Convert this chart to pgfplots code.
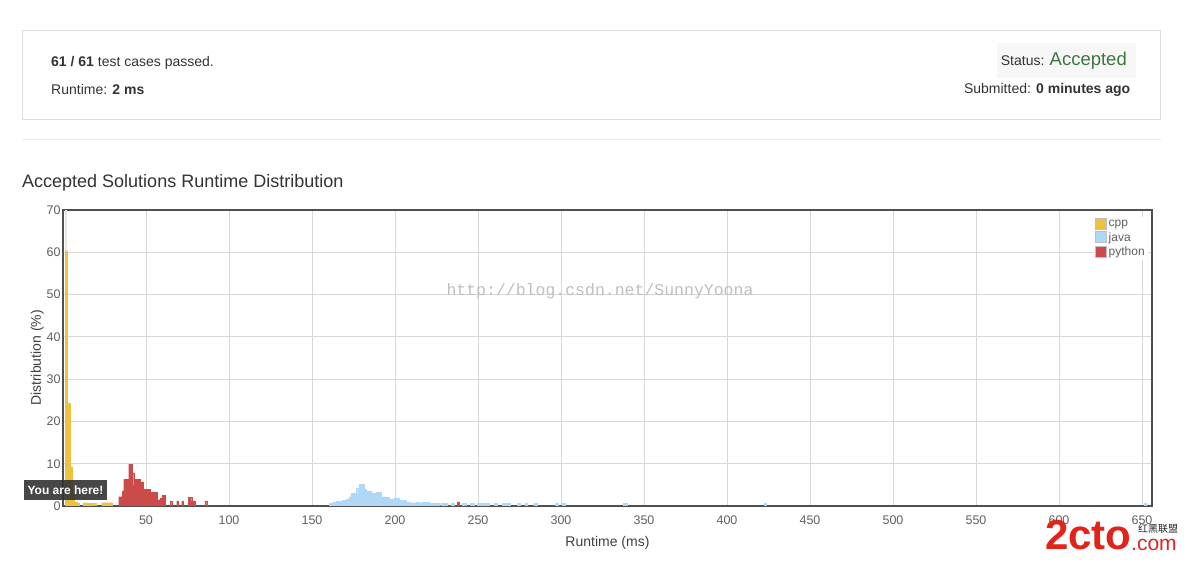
\documentclass[border=0pt]{standalone}
\usepackage{fontspec}
\setmainfont{Liberation Sans}
\setmonofont{Liberation Mono}
\newfontfamily\cjk{Noto Sans CJK SC}
\usepackage{pgfplots}
\usepackage{pgfplotstable}
\pgfplotsset{compat=1.18}
\definecolor{cppc}{HTML}{EDC240}
\definecolor{javac}{HTML}{AFD8F8}
\definecolor{pyc}{HTML}{CB4B4B}
\definecolor{txt}{HTML}{333333}
\definecolor{tickc}{HTML}{606060}
\definecolor{gridc}{HTML}{D8D8D8}
\definecolor{framec}{HTML}{505050}
\definecolor{okc}{HTML}{3C763D}
\definecolor{logored}{HTML}{E2231A}

\pgfplotstableread{
x y
2.0 60.4
3.4 24.3
4.8 9.3
6.2 2.6
7.6 0.9
9.0 0.6
13 0.8
14 0.8
15 0.7
16 0.7
17 0.7
18 0.7
19 0.7
24 0.8
25 0.8
26 0.8
27 0.8
28 0.8
29 0.8
}\cppdata

\pgfplotstableread{
x y
161 0.6
162 0.6
163 0.9
164 0.9
165 1.1
166 1.1
167 1.1
168 1.1
169 1.4
170 1.4
171 1.7
172 1.7
173 2.2
174 3.0
175 3.0
176 3.0
177 4.3
178 3.0
179 5.2
180 5.2
181 5.2
182 4.0
183 3.6
184 3.6
185 3.6
186 3.0
187 3.0
188 3.0
189 3.2
190 3.2
191 3.2
192 2.2
193 2.2
194 2.2
195 2.0
196 2.0
197 1.7
198 1.7
199 1.7
200 1.9
201 1.9
202 1.9
203 1.3
204 1.3
205 1.3
206 1.3
207 0.9
208 0.9
209 0.8
210 0.8
211 0.8
212 0.8
213 0.9
214 0.9
215 0.7
216 0.7
217 0.9
218 0.9
219 0.9
220 0.9
221 0.7
222 0.7
223 0.6
224 0.6
225 0.6
226 0.6
228 0.6
229 0.6
230 0.6
231 0.6
234 0.6
235 0.6
241 0.6
242 0.6
246 0.6
247 0.6
250 0.6
251 0.6
252 0.6
253 0.6
254 0.6
255 0.6
256 0.6
260 0.6
261 0.6
265 0.6
266 0.6
267 0.6
268 0.6
269 0.6
274 0.6
275 0.6
279 0.6
284 0.6
285 0.6
297 0.6
298 0.6
301 0.6
302 0.6
338 0.6
339 0.6
423 0.6
652 0.6
}\javadata

\pgfplotstableread{
x y
34 2.2
35 2.2
36 3.6
37 6.3
38 6.3
39 6.3
40 9.9
41 9.9
42 7.9
43 5.0
44 6.3
45 6.3
46 6.3
47 5.7
48 5.7
49 4.0
50 4.0
51 4.0
52 4.0
53 3.3
54 3.3
55 3.3
56 3.3
57 1.5
58 1.5
59 1.9
60 2.6
61 2.6
65 1.2
69 1.2
72 1.2
76 2.0
77 2.0
78 1.2
79 1.2
86 1.2
238 1.0
}\pydata

\pgfplotstableread{
x y
2.0 70
}\hldata

\begin{document}
\begin{tikzpicture}[x=1pt,y=1pt]
\useasboundingbox (0,0) rectangle (1184,560);
\fill[white] (0,0) rectangle (1184,560);
% summary box
\draw[black!13, line width=1pt] (22.5,529.5) rectangle (1160.5,440.5);
\node[anchor=base west, text=txt, font=\fontsize{14}{16}\selectfont, inner sep=0] at (51,493.5) {\textbf{61 / 61} test cases passed.};
\node[anchor=base west, text=txt, font=\fontsize{14}{16}\selectfont, inner sep=0] at (51,465.5) {Runtime: \textbf{2 ms}};
\fill[black!3] (996.5,516.5) rectangle (1136,481.5);
\node[anchor=base east, text=txt, font=\fontsize{14}{16}\selectfont, inner sep=0] at (1127,494) {Status: {\color{okc}\fontsize{18.5}{20}\selectfont Accepted}};
\node[anchor=base east, text=txt, font=\fontsize{14}{16}\selectfont, inner sep=0] at (1130.5,466) {Submitted: \textbf{0 minutes ago}};
\draw[black!8, line width=1pt] (22,420) -- (1161,420);
\node[anchor=base west, text=txt, font=\fontsize{18}{20}\selectfont, inner sep=0] at (22,372) {Accepted Solutions Runtime Distribution};

\begin{axis}[
  at={(63pt,54pt)}, anchor=origin,
  scale only axis, width=1089pt, height=296pt,
  xmin=0, xmax=656, ymin=0, ymax=70,
  xtick={50,100,...,650}, ytick={0,10,...,70},
  grid=major, grid style={gridc, line width=0.8pt},
  axis line style={framec, line width=2.5pt},
  major tick style={draw=none},
  tick label style={font=\fontsize{12.5}{14}\selectfont, text=tickc},
  /pgf/number format/assume math mode=true,
  xticklabel style={yshift=-6pt},
  yticklabel style={xshift=1pt},
  xlabel={Runtime (ms)}, ylabel={Distribution (\%)},
  label style={font=\fontsize{14}{16}\selectfont, text=black!75},
  xlabel style={yshift=-5pt},
  ylabel style={yshift=-4pt},
  legend style={at={(rel axis cs:0.9465,0.978)}, anchor=north west, draw=none, fill=white,
    font=\fontsize{12}{13}\selectfont, text=tickc, inner sep=1pt, row sep=0.5pt,
    /tikz/every even column/.append style={column sep=0.5pt}},
  legend cell align=left,
  legend image code/.code={\draw[#1, draw=black!25, line width=0.8pt] (0pt,-5pt) rectangle (11pt,6pt);},
]
\addplot[ybar, bar width=1.4, fill=black!10, draw=none, forget plot] table[x=x,y=y] {\hldata};
\addplot[ybar, bar width=1.4, fill=cppc, draw=cppc, line width=0.1pt] table[x=x,y=y] {\cppdata};
\addlegendentry{cpp}
\addplot[ybar, bar width=1, fill=javac, draw=javac, line width=0.1pt] table[x=x,y=y] {\javadata};
\addlegendentry{java}
\addplot[ybar, bar width=1, fill=pyc, draw=pyc, line width=0.1pt] table[x=x,y=y] {\pydata};
\addlegendentry{python}
\end{axis}

% watermark
\node[text=black!25, font=\ttfamily\fontsize{16.5}{18}\selectfont] at (600,269) {http://blog.csdn.net/SunnyYoona};
% tooltip
\node[fill=black!80, fill opacity=0.9, text opacity=1, text=white, font=\bfseries\fontsize{12}{14}\selectfont,
  minimum width=83pt, minimum height=20pt, inner sep=0] at (65.5,70) {You are here!};
% logo
\node[anchor=base west, text=logored, font=\bfseries\fontsize{42}{44}\selectfont, inner sep=0] at (1045,11) {2cto};
\node[anchor=base west, text=logored, font=\fontsize{21}{22}\selectfont, inner sep=0] at (1131,10) {.com};
\node[anchor=base west, text=black!85, font=\cjk\fontsize{10}{11}\selectfont, inner sep=0] at (1138,27.5) {红黑联盟};
\end{tikzpicture}
\end{document}
